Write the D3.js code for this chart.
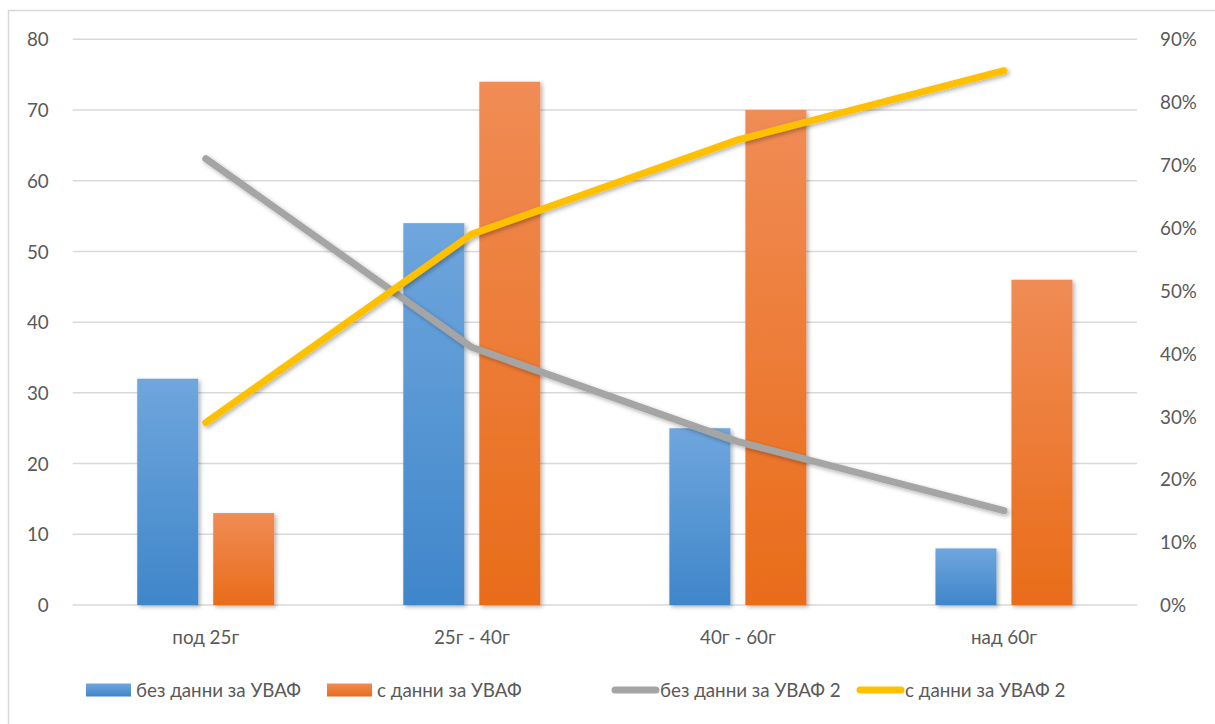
<!DOCTYPE html>
<html>
<head>
<meta charset="utf-8">
<script src="https://cdn.jsdelivr.net/npm/d3@7"></script>
<style>
  html, body { margin: 0; padding: 0; background: #fff; }
  svg { display: block; }
  text { font-family: Lato, "Open Sans", sans-serif; fill: #595959; }
</style>
</head>
<body>
<svg id="chart" width="1215" height="724"></svg>
<script>
// Age groups
const categories = ["под 25г", "25г - 40г", "40г - 60г", "над 60г"];
// Counts (left axis)
const withoutData = [32, 54, 25, 8];
const withData = [13, 74, 70, 46];
// Shares (right axis)
const withoutShare = [0.71, 0.41, 0.26, 0.15];
const withShare = [0.29, 0.59, 0.74, 0.85];
// Axis ticks
const leftTicks = [0, 10, 20, 30, 40, 50, 60, 70, 80];
const rightTicks = [0, 0.1, 0.2, 0.3, 0.4, 0.5, 0.6, 0.7, 0.8, 0.9];
// Legend labels
const seriesNames = ["без данни за УВАФ", "с данни за УВАФ", "без данни за УВАФ 2", "с данни за УВАФ 2"];

const svg = d3.select("#chart");
const plot = { left: 72.7, right: 1137, top: 39.3, bottom: 605 };
const fs = 18.8;

// Chart frame
svg.append("rect")
  .attr("x", 8.5).attr("y", 10.5)
  .attr("width", 1225).attr("height", 730)
  .attr("fill", "#fff").attr("stroke", "#d9d9d9").attr("stroke-width", 1.5);

const defs = svg.append("defs");
const grad = (id, top, bottom) => {
  const g = defs.append("linearGradient").attr("id", id)
    .attr("x1", 0).attr("y1", 0).attr("x2", 0).attr("y2", 1);
  g.append("stop").attr("offset", "0%").attr("stop-color", top);
  g.append("stop").attr("offset", "100%").attr("stop-color", bottom);
};
grad("gBlue", "#6fa6dd", "#3f86ca");
grad("gOrange", "#f08c55", "#e96c19");

const shadow = defs.append("filter").attr("id", "shadow")
  .attr("x", "-30%").attr("y", "-30%").attr("width", "160%").attr("height", "160%");
shadow.append("feDropShadow").attr("dx", 2).attr("dy", 2).attr("stdDeviation", 2)
  .attr("flood-color", "#000").attr("flood-opacity", 0.3);

const x = d3.scaleBand().domain(categories).range([plot.left, plot.right]);
const yL = d3.scaleLinear().domain([0, 80]).range([plot.bottom, plot.top]);
const yR = d3.scaleLinear().domain([0, 0.9]).range([plot.bottom, plot.top]);

// Gridlines
svg.append("g").selectAll("line").data(leftTicks).join("line")
  .attr("x1", plot.left).attr("x2", plot.right)
  .attr("y1", d => yL(d)).attr("y2", d => yL(d))
  .attr("stroke", "#d9d9d9").attr("stroke-width", 1.5);

const styleAxis = g => {
  g.select(".domain").remove();
  g.selectAll("text").attr("font-size", fs).style("font-family", null).attr("fill", null)
    .attr("dy", "0.35em");
};

// Left axis labels
svg.append("g").attr("transform", `translate(${plot.left - 24},0)`)
  .call(d3.axisLeft(yL).tickValues(leftTicks).tickSize(0).tickPadding(0))
  .call(styleAxis);

// Right axis labels
svg.append("g").attr("transform", `translate(${plot.right + 23},0)`)
  .call(d3.axisRight(yR).tickValues(rightTicks).tickFormat(d3.format(".0%")).tickSize(0).tickPadding(0))
  .call(styleAxis);

// Category labels
svg.append("g").attr("transform", `translate(0,${plot.bottom + 32})`)
  .call(d3.axisBottom(x).tickSize(0).tickPadding(0))
  .call(styleAxis);

// Bars
const barW = 61, gap = 15;
const barsG = svg.append("g");
const drawBars = (vals, offset, fill) => {
  barsG.append("g").selectAll("rect").data(vals).join("rect")
    .attr("x", (d, i) => x(categories[i]) + x.bandwidth() / 2 + offset)
    .attr("y", d => yL(d))
    .attr("width", barW)
    .attr("height", d => yL(0) - yL(d))
    .attr("fill", fill)
    .attr("filter", "url(#shadow)");
};
drawBars(withoutData, -barW - gap / 2, "url(#gBlue)");
drawBars(withData, gap / 2, "url(#gOrange)");

// Lines
const line = d3.line()
  .x((d, i) => x(categories[i]) + x.bandwidth() / 2)
  .y(d => yR(d));
const drawLine = (vals, color) => {
  svg.append("path").datum(vals)
    .attr("d", line)
    .attr("fill", "none").attr("stroke", color).attr("stroke-width", 7)
    .attr("stroke-linecap", "round").attr("stroke-linejoin", "round")
    .attr("filter", "url(#shadow)");
};
drawLine(withoutShare, "#a5a5a5");
drawLine(withShare, "#ffc000");

// Legend
const legY = 690;
const legend = svg.append("g");
const legItems = [
  { name: seriesNames[0], type: "bar", fill: "url(#gBlue)", x: 86 },
  { name: seriesNames[1], type: "bar", fill: "url(#gOrange)", x: 327 },
  { name: seriesNames[2], type: "line", fill: "#a5a5a5", x: 612 },
  { name: seriesNames[3], type: "line", fill: "#ffc000", x: 857 }
];
legItems.forEach(it => {
  if (it.type === "bar") {
    legend.append("rect").attr("x", it.x).attr("y", legY - 6.5).attr("width", 45).attr("height", 13)
      .attr("fill", it.fill);
    legend.append("text").attr("x", it.x + 50).attr("y", legY).attr("dy", "0.35em")
      .attr("font-size", fs).text(it.name);
  } else {
    legend.append("line").attr("x1", it.x + 3).attr("x2", it.x + 44)
      .attr("y1", legY).attr("y2", legY)
      .attr("stroke", it.fill).attr("stroke-width", 7).attr("stroke-linecap", "round");
    legend.append("text").attr("x", it.x + 48).attr("y", legY).attr("dy", "0.35em")
      .attr("font-size", fs).text(it.name);
  }
});
</script>
</body>
</html>
